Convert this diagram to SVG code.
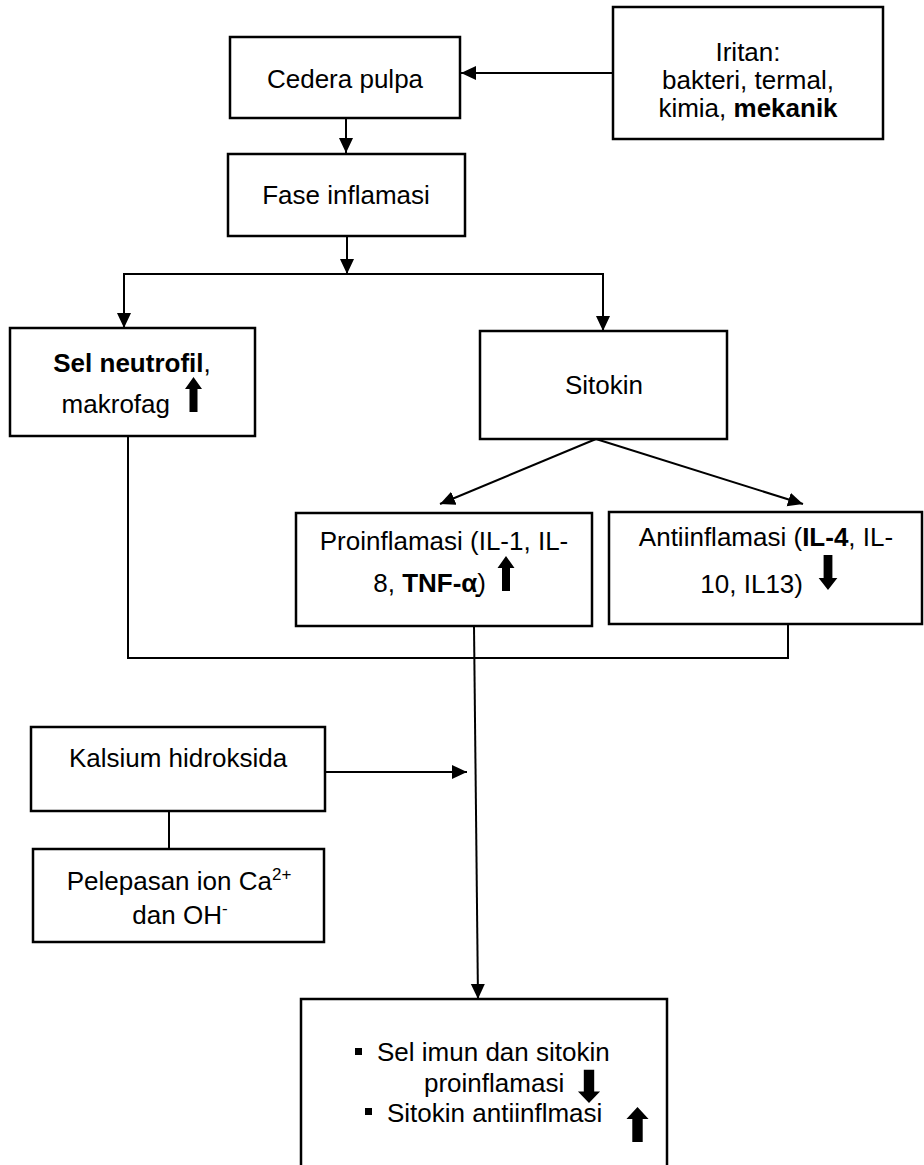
<svg xmlns="http://www.w3.org/2000/svg" xmlns:xlink="http://www.w3.org/1999/xlink" width="924" height="1165" viewBox="0 0 924 1165">
<style>
  .box { fill: #fff; stroke: #000; stroke-width: 2.5; }
  .ln { fill: none; stroke: #000; stroke-width: 2; }
  .t { font-family: "Liberation Sans", Arial, sans-serif; font-size: 26px; fill: #000; }
  .c { text-anchor: middle; }
  .e { text-anchor: end; }
  .b { font-weight: bold; }
  .icon { fill: #000; }
</style>
<defs>
  <marker id="ah" markerUnits="userSpaceOnUse" markerWidth="16" markerHeight="15" refX="15" refY="7" orient="auto">
    <path d="M0,0 L15,7 L0,14 Z" fill="#000"/>
  </marker>
  <path id="up" d="M0 0 L8.5 12 L4 12 L4 35 L-4 35 L-4 12 L-8.5 12 Z"/>
</defs>

<g id="connectors">
  <line class="ln" x1="613" y1="73" x2="461" y2="73" marker-end="url(#ah)"/>
  <line class="ln" x1="346" y1="118" x2="346" y2="153" marker-end="url(#ah)"/>
  <line class="ln" x1="347" y1="236" x2="347" y2="274" marker-end="url(#ah)"/>
  <line class="ln" x1="124" y1="274" x2="603" y2="274"/>
  <line class="ln" x1="124" y1="273" x2="124" y2="328" marker-end="url(#ah)"/>
  <line class="ln" x1="603" y1="273" x2="603" y2="331" marker-end="url(#ah)"/>
  <line class="ln" x1="596" y1="439" x2="440" y2="504" marker-end="url(#ah)"/>
  <line class="ln" x1="596" y1="439" x2="803" y2="504" marker-end="url(#ah)"/>
  <polyline class="ln" points="128,436 128,658 788,658 788,624"/>
  <line class="ln" x1="474" y1="626" x2="478" y2="999" marker-end="url(#ah)"/>
  <line class="ln" x1="325" y1="772" x2="467" y2="772" marker-end="url(#ah)"/>
  <line class="ln" x1="169" y1="811" x2="169" y2="849"/>
</g>

<g id="cedera">
  <rect class="box" x="230" y="37" width="230" height="81"/>
  <text class="t c" x="345" y="88">Cedera pulpa</text>
</g>

<g id="iritan">
  <rect class="box" x="613" y="7" width="270" height="132"/>
  <text class="t c" x="748" y="61">Iritan:</text>
  <text class="t c" x="748" y="89">bakteri, termal,</text>
  <text class="t c" x="748" y="117">kimia, <tspan class="b">mekanik</tspan></text>
</g>

<g id="fase">
  <rect class="box" x="228" y="154" width="237" height="82"/>
  <text class="t c" x="346" y="204">Fase inflamasi</text>
</g>

<g id="sel-neutrofil">
  <rect class="box" x="10" y="328" width="245" height="108"/>
  <text class="t c" x="132" y="372"><tspan class="b">Sel neutrofil</tspan>,</text>
  <text class="t e" x="170" y="413">makrofag</text>
  <use href="#up" class="icon" transform="translate(193.5,377)"/>
</g>

<g id="sitokin">
  <rect class="box" x="480" y="331" width="247" height="108"/>
  <text class="t c" x="604" y="394">Sitokin</text>
</g>

<g id="proinflamasi">
  <rect class="box" x="296" y="513" width="296" height="113"/>
  <text class="t c" x="444" y="550">Proinflamasi (IL-1, IL-</text>
  <text class="t e" x="486" y="592">8, <tspan class="b">TNF-α̣</tspan>)</text>
  <use href="#up" class="icon" transform="translate(506,556)"/>
</g>

<g id="antiinflamasi">
  <rect class="box" x="609" y="512" width="313" height="112"/>
  <text class="t c" x="766" y="546">Antiinflamasi (<tspan class="b">IL-4</tspan>, IL-</text>
  <text class="t e" x="803" y="593">10, IL13)</text>
  <use href="#up" class="icon" transform="translate(828,590) scale(1.1,-1)"/>
</g>

<g id="kalsium">
  <rect class="box" x="31" y="727" width="294" height="84"/>
  <text class="t c" x="178" y="767">Kalsium hidroksida</text>
</g>

<g id="pelepasan">
  <rect class="box" x="33" y="849" width="291" height="93"/>
  <text class="t c" x="179" y="890">Pelepasan ion Ca<tspan font-size="17" dy="-10">2+</tspan></text>
  <text class="t c" x="180" y="924">dan OH<tspan font-size="17" dy="-10">-</tspan></text>
</g>

<g id="hasil">
  <rect class="box" x="301" y="999" width="366" height="200"/>
  <rect x="355" y="1048" width="7" height="7" fill="#000"/>
  <text class="t" x="377" y="1061">Sel imun dan sitokin</text>
  <text class="t" x="424" y="1092">proinflamasi</text>
  <use href="#up" class="icon" transform="translate(589,1103) scale(1.3,-0.95)"/>
  <rect x="365" y="1108" width="7" height="7" fill="#000"/>
  <text class="t" x="387" y="1122">Sitokin antiinflmasi</text>
  <use href="#up" class="icon" transform="translate(637.5,1107) scale(1.3,1)"/>
</g>
</svg>
